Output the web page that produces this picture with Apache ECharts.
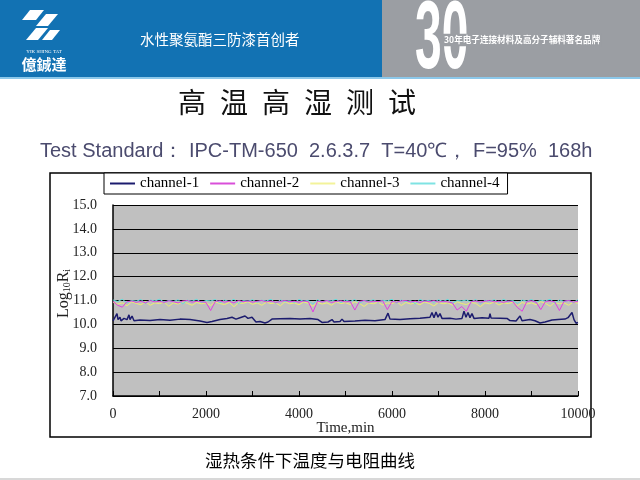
<!DOCTYPE html>
<html>
<head>
<meta charset="utf-8">
<script src="https://cdn.jsdelivr.net/npm/echarts@6/dist/echarts.min.js"></script>
<style>html,body{margin:0;padding:0;background:#fff;}#c{width:640px;height:480px;}</style>
</head>
<body>
<div id="c"></div>
<script>
var legendNames = ['channel-1', 'channel-2', 'channel-3', 'channel-4'];
var xTicks = [0, 2000, 4000, 6000, 8000, 10000];
var yTicks = [7, 8, 9, 10, 11, 12, 13, 14, 15];

var ch1Time = [0,43,86,108,150,172,237,301,344,366,409,452,580,796,1011,1226,1441,1656,1871,2022,2129,2301,2452,2559,2645,2731,2839,2903,2989,3075,3161,3269,3333,3419,3591,3806,4022,4237,4409,4495,4624,4710,4753,4882,4925,4968,5204,5419,5634,5849,5914,5957,6172,6387,6602,6817,6860,6903,6946,6989,7032,7075,7247,7376,7505,7548,7591,7634,7677,7720,7763,7935,8086,8108,8129,8323,8473,8538,8667,8753,8796,8968,9075,9183,9290,9441,9570,9720,9785,9828,9871,9914,9957,10000];
var ch1Val = [10.15,10.2,10.45,10.2,10.3,10.15,10.25,10.2,10.4,10.2,10.35,10.15,10.18,10.16,10.2,10.17,10.22,10.2,10.14,10.08,10.12,10.2,10.25,10.3,10.22,10.28,10.35,10.25,10.3,10.1,10.12,10.06,10.1,10.22,10.24,10.25,10.22,10.25,10.2,10.08,10.1,10.2,10.1,10.12,10.22,10.12,10.14,10.17,10.15,10.2,10.47,10.22,10.2,10.24,10.26,10.3,10.5,10.28,10.52,10.3,10.45,10.25,10.26,10.22,10.25,10.55,10.3,10.5,10.28,10.45,10.25,10.28,10.26,10.45,10.27,10.26,10.25,10.16,10.14,10.35,10.15,10.2,10.15,10.06,10.1,10.18,10.2,10.22,10.28,10.2,10.5,10.2,10.05,10.08];

var chTime = [0,100,200,300,400,500,600,700,800,900,1000,1100,1200,1300,1400,1500,1600,1700,1800,1900,2000,2100,2200,2300,2400,2500,2600,2700,2800,2900,3000,3100,3200,3300,3400,3500,3600,3700,3800,3900,4000,4100,4200,4300,4400,4500,4600,4700,4800,4900,5000,5100,5200,5300,5400,5500,5600,5700,5800,5900,6000,6100,6200,6300,6400,6500,6600,6700,6800,6900,7000,7100,7200,7300,7400,7500,7600,7700,7800,7900,8000,8100,8200,8300,8400,8500,8600,8700,8800,8900,9000,9100,9200,9300,9400,9500,9600,9700,9800,9900,10000];
var ch2Val = [10.96,10.8,10.72,10.95,10.98,10.92,10.97,10.9,11.0,10.94,
  10.97,10.92,10.99,10.95,10.9,10.98,11.0,10.93,10.97,10.95,
  10.92,10.58,10.96,10.99,10.93,10.97,10.9,11.0,10.95,10.98,
  10.93,10.97,11.0,10.94,10.98,10.92,10.96,11.0,10.95,10.97,
  10.93,10.98,10.95,10.52,10.97,10.94,11.0,10.92,10.96,10.99,
  10.94,10.97,10.6,10.96,11.0,10.93,10.97,10.95,10.99,10.62,
  10.96,10.93,10.98,11.0,10.94,10.97,10.92,10.98,10.95,11.0,
  10.93,10.97,10.94,10.9,10.6,10.75,10.55,10.95,10.98,10.93,
  10.97,11.0,10.94,10.97,10.92,10.98,10.95,10.7,10.55,10.96,
  10.99,10.93,10.62,10.96,10.98,10.94,10.58,10.97,11.0,10.93,
  10.96];
var ch3Val = [10.92,10.85,10.9,10.78,10.94,10.88,10.82,10.95,10.8,10.9,
  10.87,10.93,10.76,10.9,10.85,10.95,10.88,10.8,10.92,10.86,
  10.9,10.79,10.94,10.87,10.83,10.92,10.74,10.9,10.88,10.95,
  10.84,10.9,10.8,10.93,10.87,10.91,10.78,10.95,10.86,10.9,
  10.82,10.94,10.88,10.76,10.92,10.85,10.9,10.8,10.95,10.87,
  10.91,10.83,10.94,10.88,10.75,10.9,10.86,10.93,10.81,10.9,
  10.87,10.95,10.79,10.92,10.85,10.9,10.82,10.94,10.88,10.77,
  10.92,10.86,10.9,10.8,10.95,10.87,10.83,10.92,10.88,10.74,
  10.9,10.86,10.94,10.81,10.9,10.87,10.93,10.78,10.92,10.85,
  10.9,10.82,10.95,10.88,10.76,10.92,10.86,10.9,10.8,10.94,
  10.88];
var ch4Val = [11.02,10.96,11.05,10.9,11.0,10.97,11.04,10.88,11.02,10.98,
  11.05,10.93,11.0,10.96,11.03,10.86,11.01,10.97,11.05,10.92,
  11.0,10.98,11.04,10.9,11.02,10.95,11.05,10.87,11.0,10.97,
  11.03,10.93,11.01,10.98,11.05,10.89,11.02,10.96,11.0,10.92,
  11.04,10.97,11.01,10.85,11.03,10.95,11.0,10.98,11.05,10.91,
  11.02,10.96,11.04,10.88,11.0,10.97,11.03,10.93,11.01,10.98,
  11.05,10.9,11.02,10.95,11.0,10.86,11.04,10.97,11.01,10.92,
  11.03,10.96,11.05,10.89,11.0,10.98,11.02,10.94,11.04,10.87,
  11.01,10.97,11.03,10.92,11.05,10.95,11.0,10.88,11.02,10.97,
  11.04,10.93,11.01,10.98,11.05,10.9,11.02,10.96,11.0,10.92,
  11.03];

function pairs(t, v) { return t.map(function (x, i) { return [x, v[i]]; }); }

var chart = echarts.init(document.getElementById('c'), null, {renderer: 'canvas'});
var serif = 'Liberation Serif, DejaVu Serif, serif';
var cjk = '"Noto Sans CJK SC", sans-serif';

function txt(x, y, text, font, fill, align, extra) {
  var el = {type: 'text', x: x, y: y, style: {text: text, fill: fill, font: font, align: align, verticalAlign: 'middle', textAlign: align, textVerticalAlign: 'middle'}};
  if (extra) { for (var k in extra) { if (k === 'style') { for (var s in extra.style) el.style[s] = extra.style[s]; } else el[k] = extra[k]; } }
  return el;
}

var graphics = [
  {type: 'rect', shape: {x: 0, y: 0, width: 382, height: 77}, style: {fill: '#1272b3'}, z: -10},
  {type: 'rect', shape: {x: 382, y: 0, width: 258, height: 77}, style: {fill: '#9b9ea3'}, z: -10},
  {type: 'rect', shape: {x: 0, y: 77, width: 640, height: 2}, style: {fill: '#8cc8ea'}, z: -10},
  {type: 'polygon', shape: {points: [[30,10],[44,10],[36,20],[22,20]]}, style: {fill: '#fff'}},
  {type: 'polygon', shape: {points: [[46,14],[58,14],[48,26],[36,26]]}, style: {fill: '#fff'}},
  {type: 'polygon', shape: {points: [[36,28],[48,28],[38,40],[26,40]]}, style: {fill: '#fff'}},
  {type: 'polygon', shape: {points: [[50,30],[60,30],[52,40],[42,40]]}, style: {fill: '#fff'}},
  txt(44, 52, 'YIK SHING TAT', '5px ' + serif, '#fff', 'center'),
  txt(44, 64, '億鋮達', 'bold 15px ' + cjk, '#fff', 'center'),
  txt(140, 39, '水性聚氨酯三防漆首创者', '14.5px ' + cjk, '#fff', 'left'),
  txt(415, 42, '30', 'bold 96px "Liberation Sans", Arial, sans-serif', '#fff', 'left', {scaleX: 0.5}),
  txt(443, 40, '30年电子连接材料及高分子辅料著名品牌', 'bold 8.6px ' + cjk, '#fff', 'left', {z: 5, style: {backgroundColor: '#9b9ea3', padding: [2, 1, 2, 1]}}),
  txt(297, 102, '高\u2002温\u2002高\u2002湿\u2002测\u2002试', '28px ' + cjk, '#111', 'center'),
  txt(40, 151, 'Test Standard： IPC-TM-650  2.6.3.7  T=40℃， F=95%  168h', '20px "Liberation Sans", Arial, sans-serif', '#4b4b6e', 'left'),
  {type: 'rect', shape: {x: 50, y: 173, width: 541, height: 264}, style: {fill: 'none', stroke: '#000', lineWidth: 1.5}, z: -5},
  txt(310, 460, '湿热条件下温度与电阻曲线', '17.5px ' + cjk, '#000', 'center'),
  {type: 'rect', shape: {x: 0, y: 478, width: 640, height: 2}, style: {fill: '#d8d8d8'}, z: -10}
];

var option = {
  animation: false,
  backgroundColor: '#fff',
  graphic: graphics,
  legend: {
    data: legendNames,
    left: 104, top: 173,
    padding: [3, 8, 3, 6],
    itemGap: 11,
    itemWidth: 25, itemHeight: 2,
    icon: 'rect',
    backgroundColor: '#fff',
    borderColor: '#000', borderWidth: 1,
    textStyle: {fontFamily: serif, fontSize: 15, color: '#000'}
  },
  grid: {left: 113, right: 62, top: 205, bottom: 84, show: true, backgroundColor: '#c0c0c0', borderWidth: 0},
  xAxis: {
    type: 'value', min: xTicks[0], max: xTicks[xTicks.length - 1], interval: 2000,
    axisLine: {lineStyle: {color: '#000', width: 1.5}},
    axisTick: {show: true, inside: true, length: 5, lineStyle: {color: '#000'}},
    minorTick: {show: true, splitNumber: 2, length: 5, lineStyle: {color: '#000'}},
    splitLine: {show: false},
    axisLabel: {fontFamily: serif, fontSize: 14, color: '#222', margin: 11, formatter: function (v) { return String(v); }},
    name: 'Time,min', nameLocation: 'middle', nameGap: 25, nameMoveOverlap: false,
    nameTextStyle: {fontFamily: serif, fontSize: 15, color: '#222'}
  },
  yAxis: {
    type: 'value', min: yTicks[0], max: yTicks[yTicks.length - 1], interval: 1,
    axisLine: {show: true, lineStyle: {color: '#000', width: 1.5}},
    axisTick: {show: false},
    splitLine: {show: true, lineStyle: {color: '#000', width: 1}},
    axisLabel: {fontFamily: serif, fontSize: 14, color: '#222', margin: 16, formatter: function (v) { return v.toFixed(1); }},
    name: '{a|Log}{s|10}{a|R}{s|i}', nameLocation: 'middle', nameGap: 41, nameRotate: 90, nameMoveOverlap: false,
    nameTextStyle: {padding: [0, 0, 0, 14], rich: {
      a: {fontFamily: serif, fontSize: 16, color: '#222', verticalAlign: 'bottom', lineHeight: 18},
      s: {fontFamily: serif, fontSize: 10, color: '#222', verticalAlign: 'bottom', lineHeight: 18}
    }}
  },
  series: [
    {name: legendNames[0], type: 'line', symbol: 'none', z: 6, data: pairs(ch1Time, ch1Val), lineStyle: {color: '#1c1c6e', width: 1.5}, itemStyle: {color: '#1c1c6e'}},
    {name: legendNames[1], type: 'line', symbol: 'none', z: 5, data: pairs(chTime, ch2Val), lineStyle: {color: '#e040e0', width: 1}, itemStyle: {color: '#d94fd9'}},
    {name: legendNames[2], type: 'line', symbol: 'none', z: 3, data: pairs(chTime, ch3Val), lineStyle: {color: '#eef070', width: 1}, itemStyle: {color: '#f3f39a'}},
    {name: legendNames[3], type: 'line', symbol: 'none', z: 4, data: pairs(chTime, ch4Val), lineStyle: {color: '#5fe0e0', width: 1}, itemStyle: {color: '#7fe3e3'}}
  ]
};
chart.setOption(option);
</script>
</body>
</html>
